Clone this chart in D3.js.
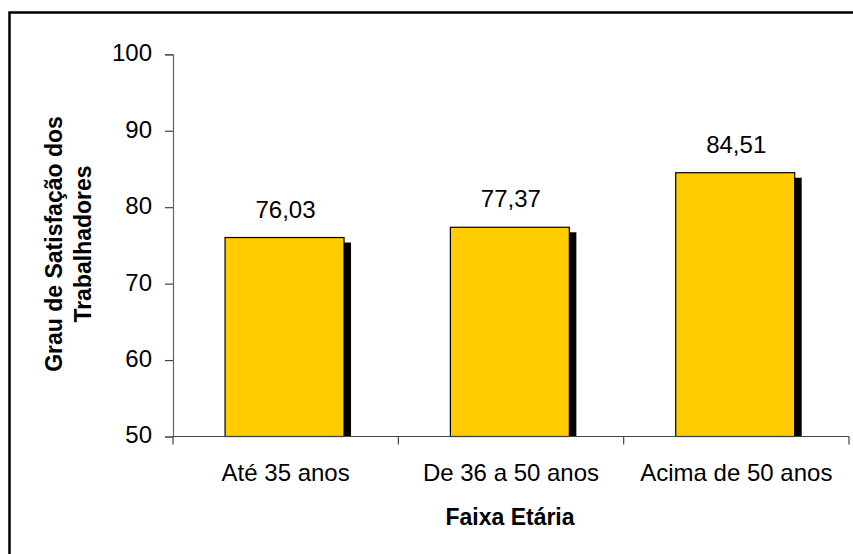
<!DOCTYPE html>
<html>
<head>
<meta charset="utf-8">
<script src="https://cdn.jsdelivr.net/npm/d3@7"></script>
<style>
  html, body { margin: 0; padding: 0; background: #fff; }
  svg { display: block; font-family: "Liberation Sans", Arial, Helvetica, sans-serif; }
</style>
</head>
<body>
<svg id="chart" width="853" height="554"></svg>
<script>
// Satisfaction score by age bracket
const categories = ["Até 35 anos", "De 36 a 50 anos", "Acima de 50 anos"];
const values = [76.03, 77.37, 84.51];
const valueLabels = ["76,03", "77,37", "84,51"];
const yTicks = [50, 60, 70, 80, 90, 100];
const yTitleLines = ["Grau de Satisfação dos", "Trabalhadores"];
const xTitle = "Faixa Etária";

const svg = d3.select("#chart");
const plot = { left: 173, right: 849, top: 54.3, bottom: 436.5 };
const fontSize = 24, titleSize = 23;

// chart-area frame (runs off the right and bottom edges)
svg.append("rect")
  .attr("x", 9.5).attr("y", 12.5)
  .attr("width", 900).attr("height", 600)
  .attr("fill", "none").attr("stroke", "#000").attr("stroke-width", 2.5);

const x = d3.scaleBand().domain(categories).range([plot.left, plot.right]).padding(0);
const y = d3.scaleLinear().domain([50, 100]).range([plot.bottom, plot.top]);

const bw = x.bandwidth();
const barW = bw * 0.528;
const barOff = bw * 0.231;
const shadowDx = 7, shadowDy = 5;

// drop shadows
svg.append("g").selectAll("rect")
  .data(values)
  .join("rect")
  .attr("x", (d, i) => x(categories[i]) + barOff + shadowDx)
  .attr("y", d => y(d) + shadowDy)
  .attr("width", barW)
  .attr("height", d => plot.bottom - y(d) - shadowDy)
  .attr("fill", "#000");

// bars
svg.append("g").selectAll("rect")
  .data(values)
  .join("rect")
  .attr("x", (d, i) => x(categories[i]) + barOff)
  .attr("y", d => y(d))
  .attr("width", barW)
  .attr("height", d => plot.bottom - y(d))
  .attr("fill", "#FFCC00")
  .attr("stroke", "#000")
  .attr("stroke-width", 1.2);

// value labels
svg.append("g").selectAll("text")
  .data(values)
  .join("text")
  .attr("x", (d, i) => x(categories[i]) + barOff + barW / 2 + 1)
  .attr("y", d => y(d) - 20)
  .attr("text-anchor", "middle")
  .attr("font-size", fontSize)
  .attr("fill", "#000")
  .text((d, i) => valueLabels[i]);

// y axis
const yAxis = svg.append("g").attr("transform", `translate(${plot.left},0)`)
  .call(d3.axisLeft(y).tickValues(yTicks).tickSize(8).tickPadding(13).tickFormat(d3.format("d")));
yAxis.select(".domain").attr("stroke", "#666").attr("stroke-width", 1.2);
yAxis.selectAll(".tick line").attr("stroke", "#444").attr("stroke-width", 1.2);
yAxis.selectAll(".tick text")
  .attr("font-size", fontSize).attr("fill", "#000")
  .attr("font-family", "Liberation Sans, Arial, sans-serif")
  .attr("dy", "0.27em");

// x axis with ticks at category boundaries
const xAxisG = svg.append("g").attr("transform", `translate(0,${plot.bottom})`);
xAxisG.append("line")
  .attr("x1", plot.left).attr("x2", plot.right)
  .attr("y1", 0).attr("y2", 0)
  .attr("stroke", "#444").attr("stroke-width", 1.2);
const boundaries = categories.map(c => x(c)).concat([plot.right]);
xAxisG.selectAll("line.bt")
  .data(boundaries)
  .join("line")
  .attr("class", "bt")
  .attr("x1", d => d).attr("x2", d => d)
  .attr("y1", 0).attr("y2", 8)
  .attr("stroke", "#444").attr("stroke-width", 1.2);
xAxisG.selectAll("text")
  .data(categories)
  .join("text")
  .attr("x", d => x(d) + bw / 2)
  .attr("y", 44)
  .attr("text-anchor", "middle")
  .attr("font-size", fontSize)
  .attr("fill", "#000")
  .text(d => d);

// axis titles
svg.append("text")
  .attr("x", (plot.left + plot.right) / 2 - 1)
  .attr("y", 525)
  .attr("text-anchor", "middle")
  .attr("font-size", titleSize)
  .attr("font-weight", "bold")
  .text(xTitle);

const yTitle = svg.append("text")
  .attr("transform", "translate(62,244) rotate(-90)")
  .attr("text-anchor", "middle")
  .attr("font-size", titleSize)
  .attr("font-weight", "bold");
yTitle.selectAll("tspan")
  .data(yTitleLines)
  .join("tspan")
  .attr("x", 0)
  .attr("dy", (d, i) => i === 0 ? 0 : 29)
  .text(d => d);
</script>
</body>
</html>
